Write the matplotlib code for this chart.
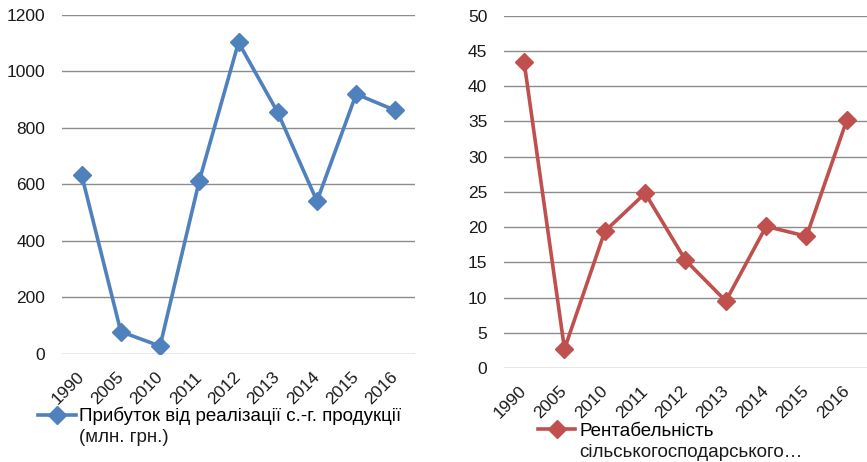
import matplotlib
matplotlib.use("Agg")
import matplotlib.pyplot as plt

plt.rcParams['font.family'] = ['Liberation Sans', 'DejaVu Sans']

# Categories (years) and series values
years = ['1990', '2005', '2010', '2011', '2012', '2013', '2014', '2015', '2016']
profit = [634, 79, 28, 613, 1103, 855, 541, 920, 862]
profitability = [43.4, 2.7, 19.4, 24.8, 15.3, 9.5, 20.1, 18.7, 35.2]

# legend text is split in two lines, the marker sits on the first one
profit_label = ['Прибуток від реалізації с.-г. продукції', '(млн. грн.)']
rent_label = ['Рентабельність', 'сільськогосподарського…']

blue = '#4F81BD'
red = '#C0504D'
grid = '#8C8C8C'
fs = 12.5      # tick labels
lfs = 13.5     # legend text

fig = plt.figure(figsize=(8.67, 4.62), dpi=100)

# Left chart: profit
ax1 = fig.add_axes([0.0715, 0.2338, 0.4072, 0.7338])
# Right chart: profitability
ax2 = fig.add_axes([0.5813, 0.2035, 0.4187, 0.7625])


def style_axis(ax, ymax, step):
    ax.set_xlim(-0.5, len(years) - 0.5)
    ax.set_ylim(0, ymax)
    ax.set_yticks(range(0, ymax + 1, step))
    ax.yaxis.grid(True, color=grid, linewidth=1.0)
    ax.set_axisbelow(True)
    for s in ax.spines.values():
        s.set_visible(False)
    ax.set_xticks(range(len(years)))
    ax.set_xticklabels(years, rotation=45, ha='right', va='center',
                       rotation_mode='anchor')
    ax.tick_params(axis='y', length=0, pad=12, labelsize=fs, labelcolor='#1a1a1a')
    ax.tick_params(axis='x', length=0, pad=15, labelsize=fs, labelcolor='#1a1a1a')


ax1.plot(range(len(years)), profit, color=blue, linewidth=2.6, marker='D',
         markersize=9, label=profit_label[0])
style_axis(ax1, 1200, 200)

ax2.plot(range(len(years)), profitability, color=red, linewidth=2.6, marker='D',
         markersize=9, label=rent_label[0])
style_axis(ax2, 50, 5)

# Legends under each chart
leg1 = ax1.legend(loc='center left', bbox_to_anchor=(0.044, 0.0996),
                  bbox_transform=fig.transFigure, frameon=False, fontsize=lfs,
                  handlelength=2.0, handletextpad=0.2, borderpad=0, borderaxespad=0)
leg2 = ax2.legend(loc='center left', bbox_to_anchor=(0.6205, 0.0671),
                  bbox_transform=fig.transFigure, frameon=False, fontsize=lfs,
                  handlelength=2.0, handletextpad=0.2, borderpad=0, borderaxespad=0)

# second line of each legend entry
fig.canvas.draw()
inv = fig.transFigure.inverted()
for leg, lab, yc in [(leg1, profit_label, 0.052), (leg2, rent_label, 0.0195)]:
    bb = leg.get_texts()[0].get_window_extent()
    x0 = inv.transform((bb.x0, bb.y0))[0]
    fig.text(x0, yc, lab[1], fontsize=lfs, va='center', ha='left', color='#1a1a1a')

fig.savefig('out.png', dpi=100)
